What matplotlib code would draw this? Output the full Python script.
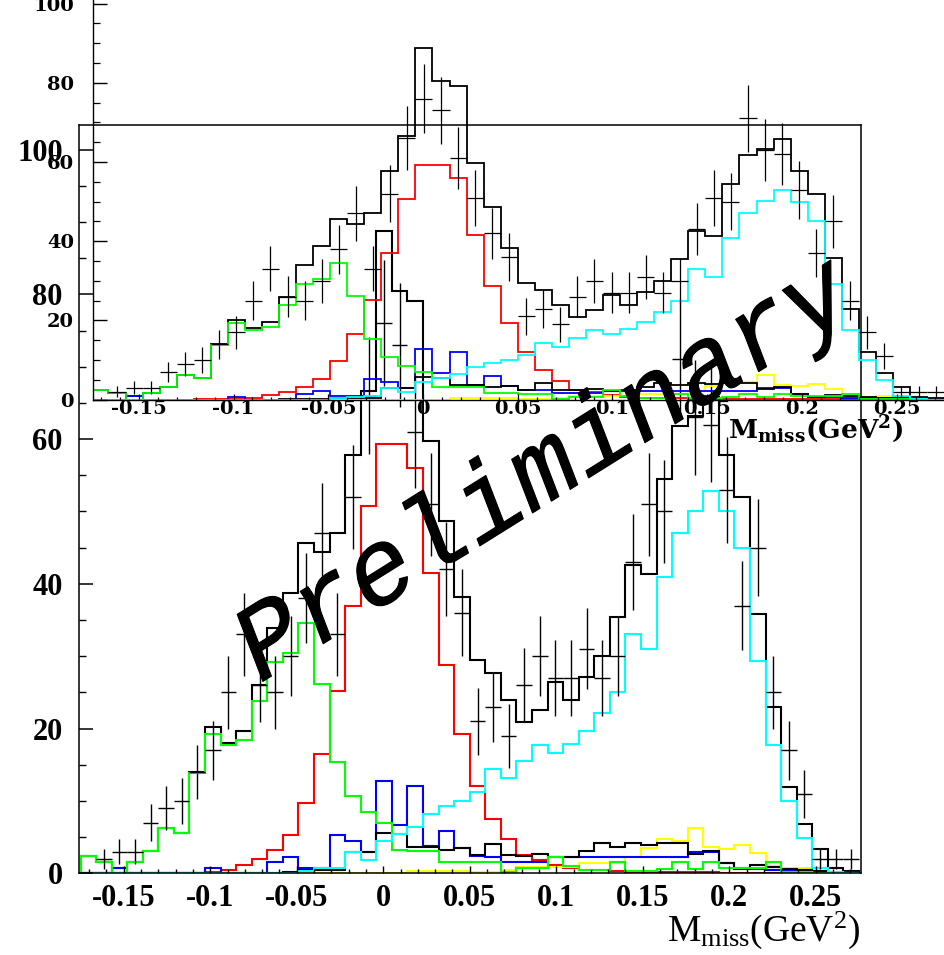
import numpy as np
import matplotlib
matplotlib.use('Agg')
import matplotlib.pyplot as plt
import matplotlib.patheffects as pe
from matplotlib.ticker import MultipleLocator

plt.rcParams['axes.unicode_minus'] = False
plt.rcParams['mathtext.fontset'] = 'custom'
plt.rcParams['mathtext.rm'] = 'Liberation Serif'
plt.rcParams['mathtext.bf'] = 'DejaVu Serif:bold'

# histogram binning (GeV^2)
x_lo = -0.175
bin_w = 0.009
n_bins = 50

# data points and their errors
data = [0, 2, 3, 3, 7, 9, 10, 14, 17, 25, 33, 26, 25, 30, 38, 47, 33, 52, 66, 76,
        73, 61, 51, 42, 36, 21, 23, 19, 26, 30, 27, 27, 31, 27, 30, 43, 51, 50, 71, 63,
        62, 53, 37, 45, 25, 17, 11, 2, 2, 2]
data_err = [0, 1.4, 1.7, 1.7, 2.6, 3.0, 3.2, 3.7, 4.1, 5.0, 5.7, 5.1, 5.0, 5.5, 6.2, 6.9, 5.7, 7.2, 8.1, 8.7,
            8.5, 7.8, 7.1, 6.5, 6.0, 4.6, 4.8, 4.4, 5.1, 5.5, 5.2, 5.2, 5.6, 5.2, 5.5, 6.6, 7.1, 7.1, 8.4, 7.9,
            7.9, 7.3, 6.1, 6.7, 5.0, 4.1, 3.3, 1.4, 1.4, 1.4]

# total fit (thick black)
total = [2.4, 1.6, 0.8, 1.6, 3.1, 6.2, 5.5, 14.0, 20.2, 18.0, 19.6, 26.0, 33.9, 38.7, 45.6, 44.4, 47.0, 57.8, 66.6, 88.8,
         80.4, 79.1, 59.8, 48.7, 38.2, 29.5, 27.7, 23.9, 20.9, 22.5, 26.5, 23.9, 27.1, 30.0, 35.4, 42.6, 41.3, 54.5, 61.8, 63.2,
         65.8, 57.8, 52.0, 35.8, 23.0, 11.9, 6.8, 3.3, 0.7, 0.3]

# components
red = [0, 0, 0, 0, 0, 0, 0.1, 0.1, 0.15, 0.5, 1.1, 2.0, 3.2, 5.3, 9.7, 16.5, 25.2, 36.9, 50.7, 59.3,
       59.3, 56.0, 41.5, 28.8, 19.3, 12.0, 7.5, 4.8, 2.5, 1.8, 1.2, 0.7, 0.5, 0.4, 0.3, 0.2, 0.2, 0.2, 0.2, 0.2,
       0.2, 0.1, 0.1, 0.1, 0.1, 0.1, 0.1, 0, 0, 0]
green = [2.4, 1.6, 0, 1.6, 3.1, 6.2, 5.5, 13.8, 19.3, 17.7, 18.4, 23.8, 29.2, 30.5, 34.6, 26.1, 15.4, 10.7, 8.5, 6.9,
         3.2, 3.1, 3.1, 1.6, 1.6, 1.5, 1.5, 0.2, 0.7, 0.7, 2.3, 1.0, 0.4, 0.4, 1.5, 0.3, 0.3, 0.6, 1.5, 0.6,
         1.5, 0.8, 0.8, 0.8, 1.5, 0.2, 0.2, 0.1, 0.1, 0]
cyan = [0, 0, 0, 0, 0, 0, 0, 0, 0, 0, 0, 0, 0, 0, 0.3, 0.7, 0.8, 2.9, 1.9, 4.4,
        5.4, 6.4, 8.2, 9.3, 10.0, 11.2, 14.4, 13.2, 15.5, 17.7, 16.6, 17.8, 19.6, 22.2, 25.0, 33.1, 31.0, 40.9, 47.0, 50.1,
        52.8, 50.0, 45.0, 29.3, 17.7, 10.0, 4.9, 0.8, 0.2, 0]
blue = [0, 0, 0.8, 0, 0, 0, 0, 0, 0.7, 0, 0, 0, 1.5, 2.2, 0.8, 0.8, 5.3, 4.5, 2.9, 12.8,
        6.7, 12.0, 3.8, 5.9, 3.5, 2.4, 2.3, 1.6, 1.6, 1.6, 2.2, 2.2, 2.2, 2.2, 2.2, 2.2, 2.2, 2.2, 2.2, 3.0,
        3.0, 1.4, 0.7, 0.6, 0.5, 0.5, 0.5, 0.7, 0, 0]
yellow = [0, 0, 0, 0, 0, 0, 0, 0, 0, 0, 0, 0, 0, 0, 0, 0, 0, 0, 0, 0,
          0, 0.3, 0.3, 0.3, 0.3, 0.2, 0.2, 0.5, 0.9, 0.9, 0.9, 0.9, 1.4, 1.4, 1.4, 2.2, 3.5, 4.7, 4.5, 6.3,
          3.7, 3.4, 3.9, 2.8, 1.0, 0.7, 0.8, 0.3, 0, 0]
other = [0, 0, 0, 0, 0, 0, 0, 0, 0, 0, 0, 0.1, 0.1, 0.2, 0.5, 0.5, 0.5, 2.9, 2.9, 5.6,
         5.4, 3.7, 3.7, 3.2, 3.5, 2.5, 4.1, 2.5, 2.4, 2.6, 2.2, 2.3, 3.1, 4.2, 3.6, 4.2, 3.9, 4.2, 4.2, 2.6,
         3.1, 1.4, 0.6, 1.2, 0.9, 0.6, 0.5, 0.3, 0.1, 0]

xticks = [-0.15, -0.1, -0.05, 0, 0.05, 0.1, 0.15, 0.2, 0.25]
xtick_labels = ['-0.15', '-0.1', '-0.05', '0', '0.05', '0.1', '0.15', '0.2', '0.25']
yticks = [0, 20, 40, 60, 80, 100]
ytick_labels = ['0', '20', '40', '60', '80', '100']

edges = x_lo + bin_w * np.arange(n_bins + 1)
centers = edges[:-1] + bin_w / 2
data = np.array(data, dtype=float)
data_err = np.array(data_err)
has = data > 0


def draw(ax, lw, elw):
    ax.stairs(total, edges, color='black', lw=lw)
    ax.errorbar(centers[has], data[has], yerr=data_err[has], xerr=bin_w / 2,
                fmt='none', ecolor='black', elinewidth=elw, capsize=0)
    ax.stairs(red, edges, color='#ff0000', lw=lw)
    ax.stairs(yellow, edges, color='#ffff00', lw=lw)
    ax.stairs(blue, edges, color='#0000ff', lw=lw)
    ax.stairs(other, edges, color='black', lw=lw)
    ax.stairs(green, edges, color='#00ff00', lw=lw)
    ax.stairs(cyan, edges, color='#00ffff', lw=lw)


fig = plt.figure(figsize=(9.45, 9.55), dpi=100)

# big plot (full frame)
ax = fig.add_axes([79.3 / 945, (955 - 873.3) / 955, (860.7 - 79.3) / 945, (873.3 - 125) / 955])
ax.set_facecolor('none')
draw(ax, 1.5, 1.0)
ax.set_xlim(-0.1757, 0.2760)
ax.set_ylim(0, 103.4)
ax.set_xticks(xticks, xtick_labels, fontfamily='Liberation Serif', fontweight='bold')
ax.set_yticks(yticks, ytick_labels, fontfamily='Liberation Serif', fontweight='bold')
ax.xaxis.set_minor_locator(MultipleLocator(0.01))
ax.yaxis.set_minor_locator(MultipleLocator(5))
ax.tick_params(which='both', direction='in', top=False, right=False)
ax.tick_params(axis='y', which='major', length=10, width=1.1, pad=12, labelsize=22)
ax.tick_params(axis='y', which='minor', length=5, width=1.0)
ax.tick_params(axis='x', which='major', length=5, width=1.0, pad=8, labelsize=22)
ax.tick_params(axis='x', which='minor', length=3, width=1.0)
for s in ax.spines.values():
    s.set_linewidth(1.1)
ax.set_xlabel(r'$\mathrm{M_{miss}(GeV^{2})}$', fontsize=27, ha='right')
ax.xaxis.set_label_coords(1.0, -0.048)

# squashed copy on top
ax2 = fig.add_axes([93.3 / 945, (955 - 399.6) / 955, (946 - 93.3) / 945, 409.5 / 955])
ax2.set_facecolor('none')
draw(ax2, 1.3, 0.9)
ax2.set_xlim(-0.1740, 0.2760)
ax2.set_ylim(0, 103.4)
ax2.set_xticks(xticks, xtick_labels, fontfamily='DejaVu Serif', fontweight='bold')
ax2.set_yticks(yticks, ytick_labels, fontfamily='DejaVu Serif', fontweight='bold')
ax2.xaxis.set_minor_locator(MultipleLocator(0.01))
ax2.yaxis.set_minor_locator(MultipleLocator(5))
ax2.tick_params(which='both', direction='in', top=False, right=False)
ax2.tick_params(axis='y', which='major', length=10, width=1.0, pad=14, labelsize=14)
ax2.tick_params(axis='y', which='minor', length=5, width=0.9)
ax2.tick_params(axis='x', which='major', length=4, width=0.9, pad=0.5, labelsize=14)
ax2.tick_params(axis='x', which='minor', length=2.5, width=0.9)
ax2.spines['top'].set_visible(False)
ax2.spines['right'].set_visible(False)
ax2.spines['left'].set_linewidth(1.0)
ax2.spines['bottom'].set_linewidth(1.0)
ax2.set_xlabel(r'$\mathbf{M_{miss}(GeV^{2})}$', fontsize=19, ha='left')
ax2.xaxis.set_label_coords(0.744, -0.033)

# watermark
fig.text(0.577, 0.5058, 'Preliminary', rotation=32, ha='center', va='center',
         rotation_mode='anchor', fontsize=77, family='Liberation Mono', style='italic',
         zorder=10, path_effects=[pe.withStroke(linewidth=0.8, foreground='black')])

fig.savefig('out.png', dpi=100)
